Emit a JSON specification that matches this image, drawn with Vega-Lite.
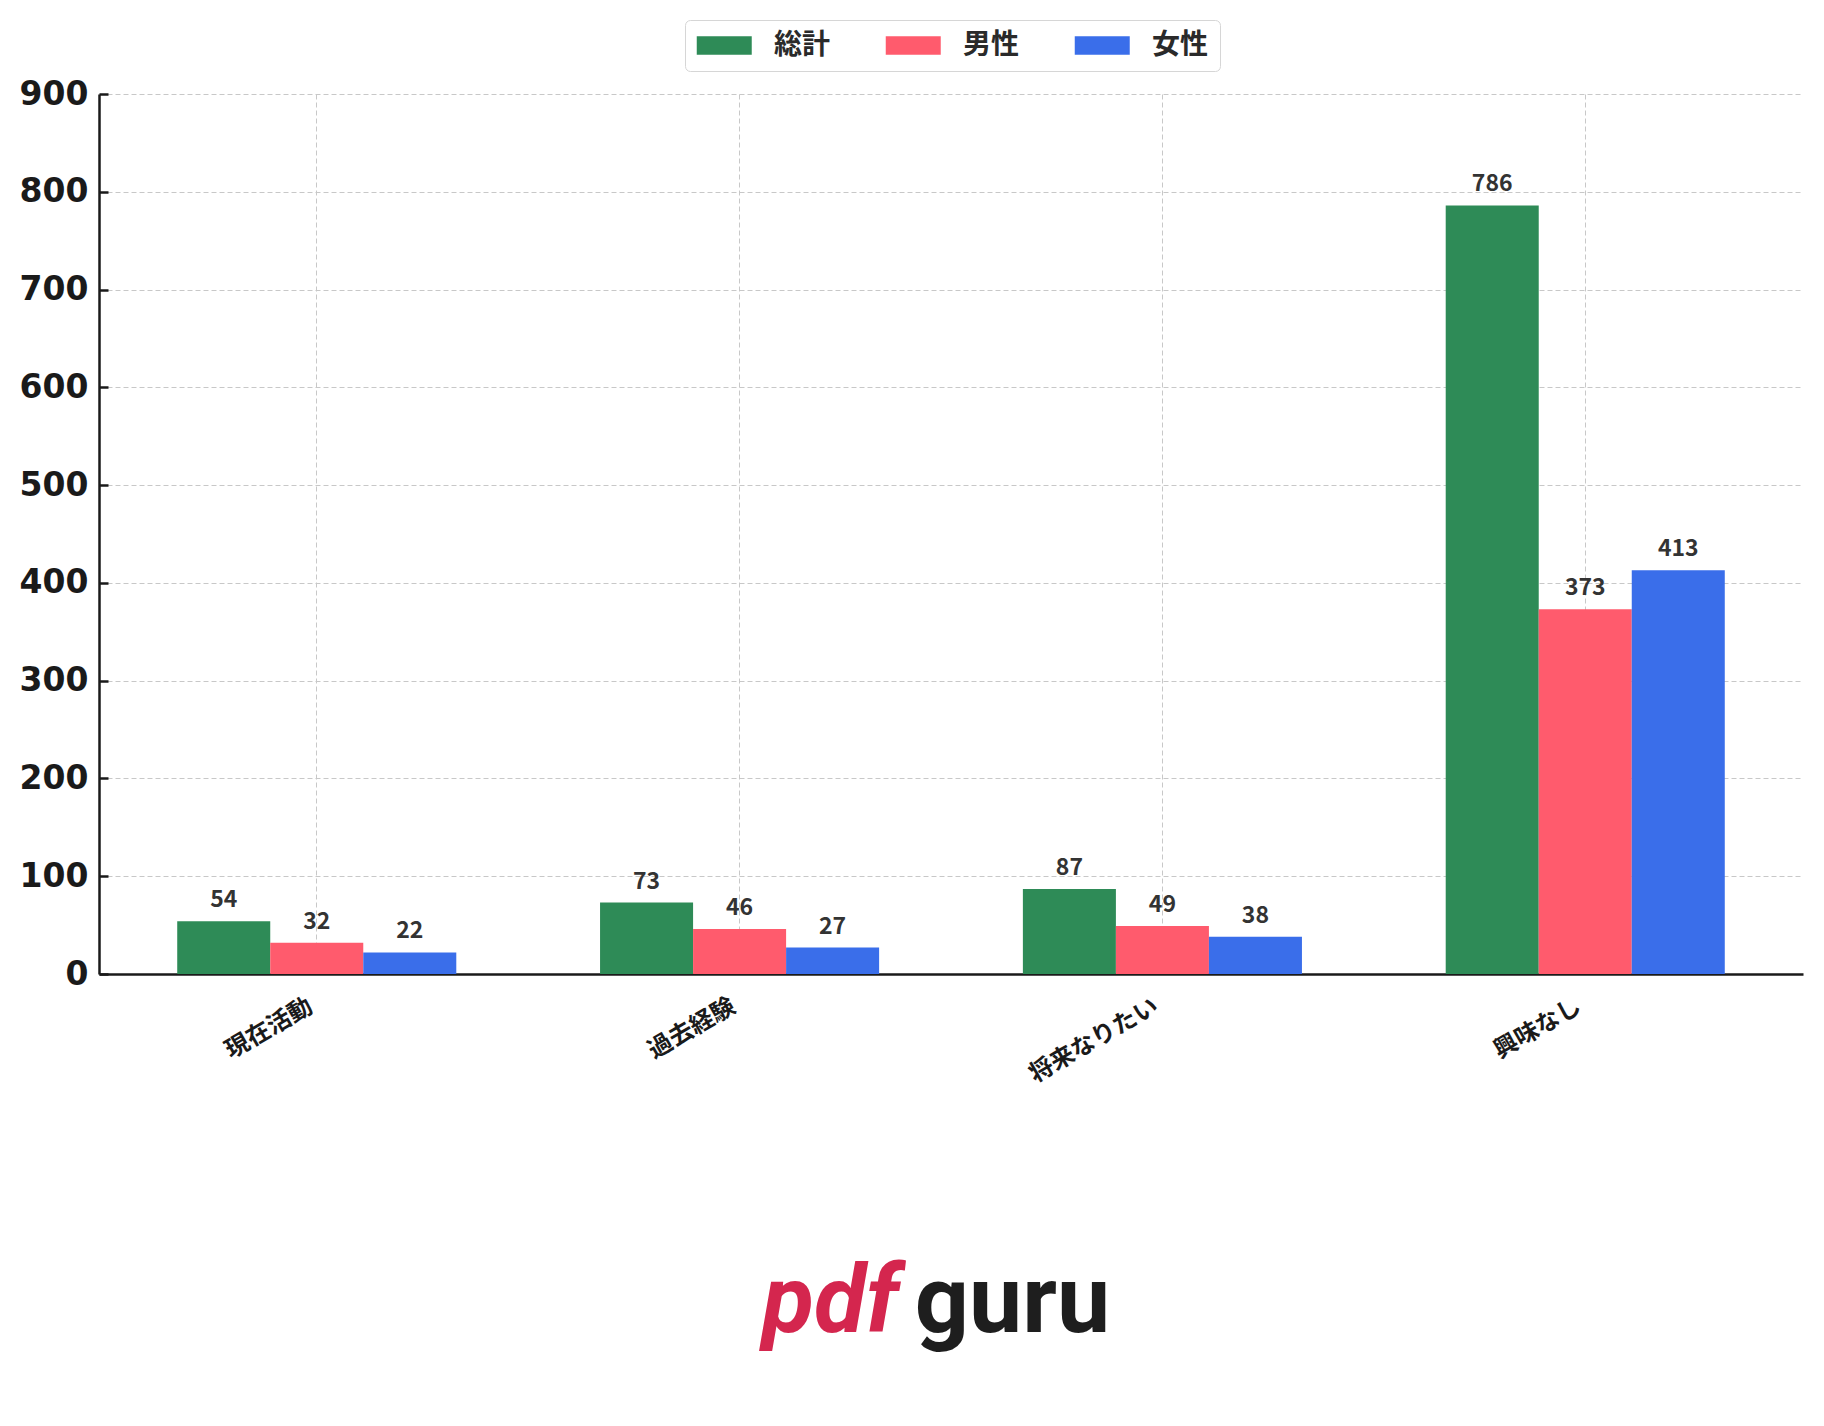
{
  "$schema": "https://vega.github.io/schema/vega-lite/v6.json",
  "width": 1704,
  "height": 880,
  "autosize": {"type": "none"},
  "padding": {"left": 99, "top": 94, "right": 21, "bottom": 452},
  "background": "white",
  "data": {
    "values": [
      {"category": "現在活動", "group": "総計", "value": 54},
      {"category": "現在活動", "group": "男性", "value": 32},
      {"category": "現在活動", "group": "女性", "value": 22},
      {"category": "過去経験", "group": "総計", "value": 73},
      {"category": "過去経験", "group": "男性", "value": 46},
      {"category": "過去経験", "group": "女性", "value": 27},
      {"category": "将来なりたい", "group": "総計", "value": 87},
      {"category": "将来なりたい", "group": "男性", "value": 49},
      {"category": "将来なりたい", "group": "女性", "value": 38},
      {"category": "興味なし", "group": "総計", "value": 786},
      {"category": "興味なし", "group": "男性", "value": 373},
      {"category": "興味なし", "group": "女性", "value": 413}
    ]
  },
  "encoding": {
    "x": {
      "field": "category",
      "type": "nominal",
      "sort": ["現在活動", "過去経験", "将来なりたい", "興味なし"],
      "scale": {"paddingInner": 0.34, "paddingOuter": 0.185},
      "axis": {
        "title": "pdf",
        "titleColor": "#d4264e",
        "titleFont": "Roboto",
        "titleFontSize": 95,
        "titleFontWeight": "bold",
        "titleFontStyle": "italic",
        "titleX": 731,
        "titleY": 357,
        "titleAlign": "center",
        "titleBaseline": "alphabetic",
        "labelAngle": -30,
        "labelAlign": "right",
        "labelBaseline": "top",
        "labelFont": "Noto Sans CJK JP",
        "labelFontWeight": "bold",
        "labelFontSize": 24,
        "labelColor": "#1a1a1a",
        "labelPadding": 20,
        "labelOffset": -12,
        "ticks": false,
        "grid": true,
        "domainColor": "#1a1a1a",
        "domainWidth": 2.5
      }
    },
    "xOffset": {
      "field": "group",
      "type": "nominal",
      "sort": ["総計", "男性", "女性"],
      "scale": {"paddingInner": 0, "paddingOuter": 0}
    },
    "y": {
      "field": "value",
      "type": "quantitative",
      "scale": {"domain": [0, 900], "nice": false},
      "axis": {
        "title": "guru",
        "titleColor": "#1e1e1e",
        "titleFont": "Roboto",
        "titleFontSize": 95,
        "titleFontWeight": "bold",
        "titleAngle": 0,
        "titleX": 913,
        "titleY": 1237,
        "titleAlign": "center",
        "titleBaseline": "alphabetic",
        "values": [0, 100, 200, 300, 400, 500, 600, 700, 800, 900],
        "labelFont": "DejaVu Sans",
        "labelFontWeight": "bold",
        "labelFontSize": 33,
        "labelColor": "#1a1a1a",
        "labelPadding": 20,
        "tickSize": -9,
        "tickWidth": 2.5,
        "tickColor": "#1a1a1a",
        "domainColor": "#1a1a1a",
        "domainWidth": 2.5,
        "grid": true
      }
    }
  },
  "layer": [
    {
      "mark": {"type": "bar"},
      "encoding": {
        "color": {
          "field": "group",
          "type": "nominal",
          "sort": ["総計", "男性", "女性"],
          "scale": {
            "domain": ["総計", "男性", "女性"],
            "range": ["#2e8b57", "#ff5b6d", "#3a6eea"]
          },
          "legend": {
            "title": null,
            "orient": "none",
            "legendX": 586,
            "legendY": -74,
            "direction": "horizontal",
            "symbolType": "M-1,-0.68H3V0.68H-1Z",
            "symbolSize": 756,
            "symbolStrokeWidth": 0,
            "labelFont": "Noto Sans CJK JP",
            "labelFontWeight": "bold",
            "labelFontSize": 28,
            "labelColor": "#2a2a2a",
            "labelOffset": 49.5,
            "columnPadding": 55,
            "padding": 11.5,
            "strokeColor": "#d6d6d6",
            "cornerRadius": 5,
            "fillColor": "white"
          }
        }
      }
    },
    {
      "mark": {
        "type": "text",
        "baseline": "alphabetic",
        "align": "center",
        "dy": -14,
        "font": "Noto Sans CJK JP",
        "fontWeight": "bold",
        "fontSize": 23,
        "color": "#333333"
      },
      "encoding": {
        "text": {"field": "value", "type": "quantitative"}
      }
    }
  ],
  "config": {
    "view": {"stroke": null},
    "axis": {
      "gridColor": "#c8c8c8",
      "gridDash": [5, 3],
      "gridWidth": 1
    }
  }
}
